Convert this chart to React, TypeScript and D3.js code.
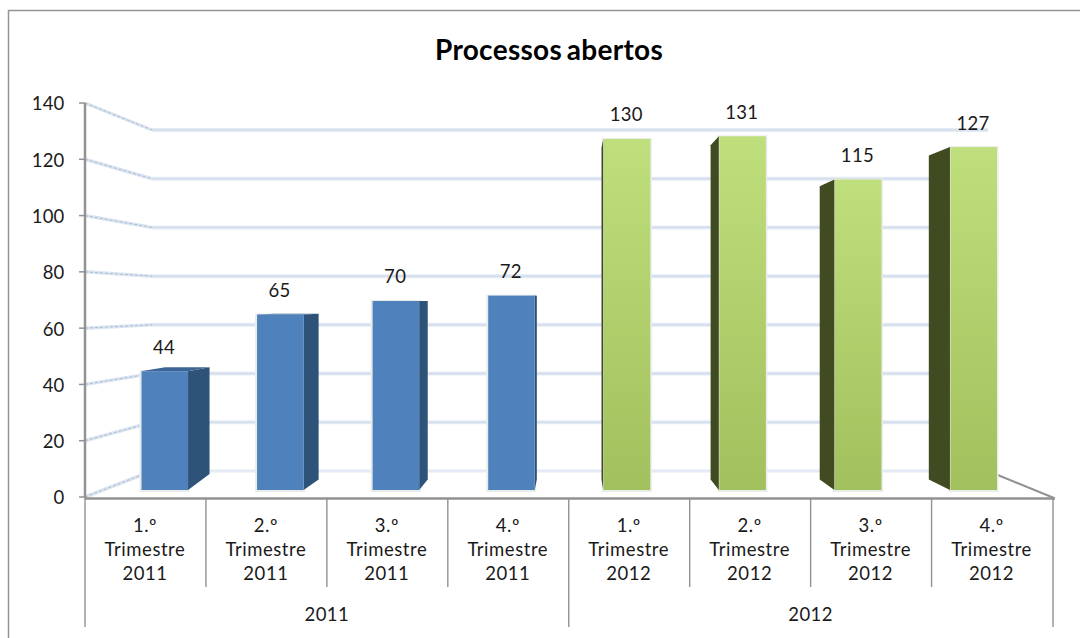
import React from "react";
import * as d3 from "d3";

const title = "Processos abertos";
const quarters = ["1.º", "2.º", "3.º", "4.º", "1.º", "2.º", "3.º", "4.º"];
const years = ["2011", "2011", "2011", "2011", "2012", "2012", "2012", "2012"];
const values = [44, 65, 70, 72, 130, 131, 115, 127];
const yearGroups = ["2011", "2012"];
const yTicks = [0, 20, 40, 60, 80, 100, 120, 140];
const categories = values.map((_, i) => `${i}`);

const FONT = "Lato, 'Open Sans', sans-serif";
const GREY = "#929292";
const TXT = "#1a1a1a";

const palette: Record<string, { front: string; side: string; top: string }> = {
  "2011": { front: "#4F81BD", side: "#2F5279", top: "#3C6596" },
  "2012": { front: "url(#green)", side: "#414C22", top: "#414C22" },
};

const yFront = d3.scaleLinear().domain([0, 140]).range([497, 103]);
const yBack = d3.scaleLinear().domain([0, 140]).range([471, 130]);
const yBar = d3.scaleLinear().domain([0, 140]).range([490, 112]);
const xBar = d3.scaleBand().domain(categories).range([141, 997]).paddingInner(0.593);
const xCell = d3.scaleBand().domain(categories).range([85, 1052.5]);
const xGroup = d3.scaleBand().domain(yearGroups).range([85, 1052.5]);

const VP_X = 572;
const DEPTH_X = 0.056;
const backX = (x: number) => x + DEPTH_X * (VP_X - x);
const backY = (y: number, i: number) => {
  const s = i === 0 ? 0.9 : 0.945;
  const h = i === 0 ? 331 : 300;
  return h + s * (y - h);
};
const poly = d3.line<[number, number]>();

export default function App() {
  const bw = xBar.bandwidth();
  const step = xCell.step();
  return (
    <svg
      width={1080}
      height={638}
      viewBox="0 0 1080 638"
      style={{ position: "absolute", left: 0, top: 0, background: "#fff", fontFamily: FONT }}
    >
      <defs>
        <linearGradient id="green" x1="0" y1="0" x2="0" y2="1">
          <stop offset="0" stopColor="#BFDE7C" />
          <stop offset="1" stopColor="#A2C05D" />
        </linearGradient>
        <filter id="soft" x="-2%" y="-2%" width="104%" height="104%">
          <feGaussianBlur stdDeviation="0.4" />
        </filter>
      </defs>

      <g filter="url(#soft)">
        {/* chart frame */}
        <path d="M8.5,638V10.5H1080" fill="none" stroke="#959595" strokeWidth={1.5} />

        {/* wall gridlines */}
        {yTicks.map((t) => (
          <g key={t} fill="none">
            <path
              d={poly([[85, yFront(t)], [152, yBack(t)]]) ?? ""}
              stroke="#DCE6F2"
              strokeWidth={3.5}
            />
            <path
              d={poly([[85, yFront(t)], [152, yBack(t)]]) ?? ""}
              stroke="#AEBBCD"
              strokeWidth={1}
              strokeDasharray="3 2"
            />
            {t > 0 && (
              <>
                <path d={poly([[152, yBack(t)], [988, yBack(t)]]) ?? ""} stroke="#E4EBF5" strokeWidth={4} />
                <path d={poly([[152, yBack(t)], [988, yBack(t)]]) ?? ""} stroke="#CBD7E8" strokeWidth={1} />
              </>
            )}
          </g>
        ))}
        <path
          d={poly([[152, yBack(0)], [988, yBack(0)]]) ?? ""}
          stroke="#E4EBF5"
          strokeWidth={3}
          fill="none"
        />
        {/* right floor edge */}
        <path d={poly([[988, yBack(0)], [1054, yFront(0) + 1]]) ?? ""} stroke={GREY} strokeWidth={2} fill="none" />

        {/* axes */}
        <path d={poly([[85, yFront(140)], [85, yFront(0) + 1]]) ?? ""} stroke={GREY} strokeWidth={2.5} fill="none" />
        <path d={poly([[85, 498.5], [1055, 498.5]]) ?? ""} stroke={GREY} strokeWidth={2.5} fill="none" />
        {yTicks.map((t) => (
          <path key={t} d={poly([[79, yFront(t)], [85, yFront(t)]]) ?? ""} stroke={GREY} strokeWidth={1.5} />
        ))}

        {/* category table rules */}
        {categories.map((c, i) => (
          <path
            key={c}
            d={poly([[xCell(c)!, 498], [xCell(c)!, i % 4 === 0 ? 627 : 587]]) ?? ""}
            stroke={GREY}
            strokeWidth={1.4}
          />
        ))}
        <path d={poly([[1053, 498], [1053, 627]]) ?? ""} stroke={GREY} strokeWidth={1.4} />

        {/* bars */}
        {values.map((v, i) => {
          const c = categories[i];
          const x0 = xBar(c)!;
          const x1 = x0 + bw;
          const yt = yBar(v);
          const yb = yBar(0);
          const col = palette[years[i]];
          const sideX = i < 4 ? x1 : x0;
          const side = poly([
            [sideX, yt],
            [backX(sideX), backY(yt, i)],
            [backX(sideX), backY(yb, i)],
            [sideX, yb],
          ]);
          const top = poly([
            [x0, yt],
            [x1, yt],
            [backX(x1), backY(yt, i)],
            [backX(x0), backY(yt, i)],
          ]);
          return (
            <g key={c}>
              <rect x={x0 - 1.5} y={yt - 1} width={bw + 3} height={yb - yt + 3} fill="#E8EDEA" />
              <path d={side ?? ""} fill={col.side} />
              {backY(yt, i) < yt && <path d={top ?? ""} fill={col.top} />}
              <rect x={x0 + 0.5} y={yt} width={bw - 0.5} height={yb - yt} fill={col.front} />
            </g>
          );
        })}
      </g>

      {/* title */}
      <text x={549} y={60} textAnchor="middle" fontSize={28} fontWeight={700} letterSpacing={0.3} wordSpacing={-2.5} fill="#000">
        {title}
      </text>

      {/* y tick labels */}
      {yTicks.map((t) => (
        <text key={t} x={64.5} y={yFront(t) + 1} dy="0.35em" textAnchor="end" fontSize={18.5} letterSpacing={0.2} fill={TXT}>
          {t}
        </text>
      ))}

      {/* data labels */}
      {values.map((v, i) => (
        <text
          key={i}
          x={xBar(categories[i])! + bw / 2 - 0.5}
          y={yBar(v) - 24}
          dy="0.35em"
          textAnchor="middle"
          fontSize={18.5}
          letterSpacing={0.3}
          fill={TXT}
        >
          {v}
        </text>
      ))}

      {/* category labels */}
      {categories.map((c, i) => {
        const cx = xCell(c)! + step / 2 - 0.5;
        return (
          <text key={c} textAnchor="middle" fontSize={18.5} letterSpacing={0.55} fill={TXT}>
            <tspan x={cx} y={532}>{quarters[i]}</tspan>
            <tspan x={cx} y={556}>Trimestre</tspan>
            <tspan x={cx} y={580}>{years[i]}</tspan>
          </text>
        );
      })}

      {/* year labels */}
      {yearGroups.map((y) => (
        <text
          key={y}
          x={xGroup(y)! + xGroup.bandwidth() / 2}
          y={621}
          textAnchor="middle"
          fontSize={18.5}
          letterSpacing={0.4}
          fill={TXT}
        >
          {y}
        </text>
      ))}
    </svg>
  );
}
